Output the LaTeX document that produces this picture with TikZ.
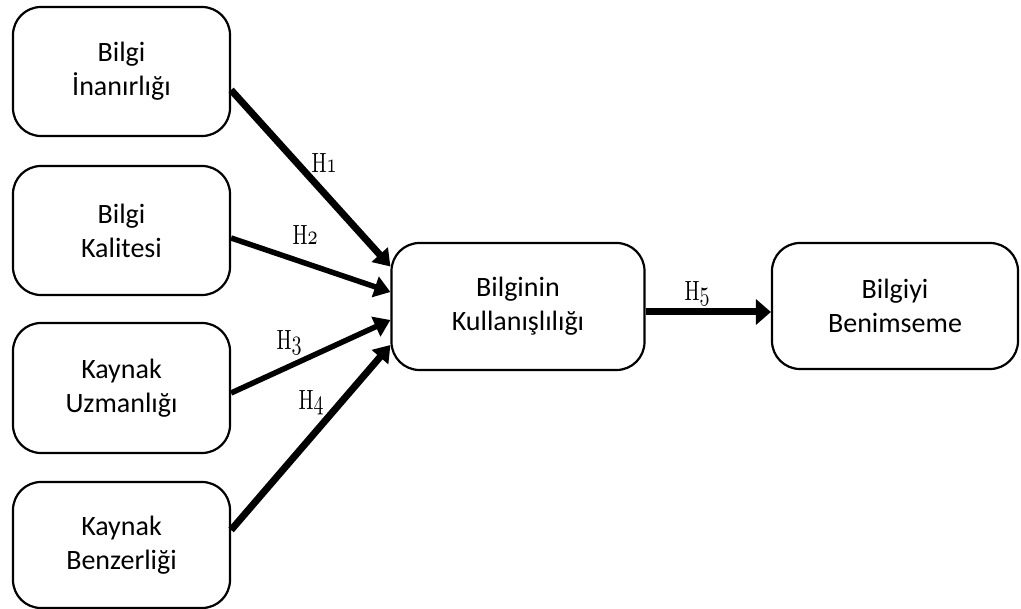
\documentclass[tikz,border=0pt]{standalone}
\usepackage{fontspec}
\usepackage{graphicx}
\newfontfamily\boxfont{Carlito}
\usetikzlibrary{arrows.meta}
% hypothesis label: upright H with old-style digit, narrow and tall
\newcommand\hlab[1]{\scalebox{2.0}[2.78]{H$\mathnormal{#1}$}}
\begin{document}
\begin{tikzpicture}[x=1pt,y=-1pt,
  box/.style={draw, line width=2.2pt, rounded corners=28pt, align=center,
    inner sep=0pt, font={\boxfont\fontsize{28}{34}\selectfont}},
  srcbox/.style={box, minimum width=217pt, minimum height=129pt},
  midbox/.style={box, minimum width=253pt, minimum height=127pt},
  endbox/.style={box, minimum width=246pt, minimum height=126pt},
  link/.style={-{Triangle[length=16pt,width=21pt]}},
  mainlink/.style={-{Triangle[length=15pt,width=25pt]}, line width=7pt},
  hyp/.style={inner sep=0pt}
]
\useasboundingbox (0,0) rectangle (1021,609);

% source constructs
\node[srcbox] (b1) at (121.5,71.5) {Bilgi\\İnanırlığı};
\node[srcbox] (b2) at (121.5,230.5) {Bilgi\\Kalitesi};
\node[srcbox, minimum height=130pt] (b3) at (121.5,388) {Kaynak\\Uzmanlığı};
\node[srcbox, minimum height=126pt] (b4) at (121.5,545) {Kaynak\\Benzerliği};

% mediator and outcome
\node[midbox] (use) at (518,306.5) {Bilginin\\Kullanışlılığı};
\node[endbox] (adopt) at (895,306) {Bilgiyi\\Benimseme};

% hypothesised paths
\draw[link, line width=7pt] ([yshift=-18.5pt]b1.east) -- ([yshift=40pt]use.west);
\draw[link, line width=5.5pt] ([yshift=-7.5pt]b2.east) -- ([yshift=14.5pt]use.west);
\draw[link, line width=5.5pt] ([yshift=-5pt]b3.east) -- ([yshift=-13.5pt]use.west);
\draw[link, line width=7pt] ([yshift=15pt]b4.east) -- ([yshift=-38.5pt]use.west);
\draw[mainlink] ([yshift=-5.5pt]use.east) -- ([yshift=-6pt]adopt.west);

% path labels
\node[hyp] (h1) at (324,163) {\hlab{1}};
\node[hyp] (h2) at (305,235) {\hlab{2}};
\node[hyp] (h3) at (289,343) {\hlab{3}};
\node[hyp] (h4) at (311,403) {\hlab{4}};
\node[hyp] (h5) at (697,294) {\hlab{5}};
\end{tikzpicture}
\end{document}
